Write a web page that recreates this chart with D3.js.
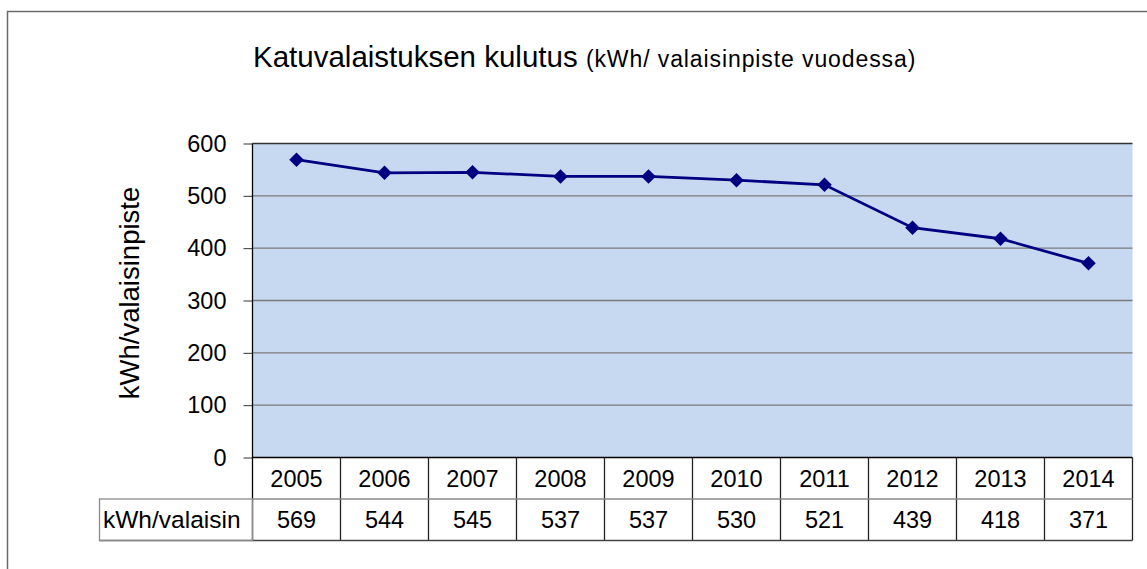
<!DOCTYPE html>
<html>
<head>
<meta charset="utf-8">
<script src="https://cdn.jsdelivr.net/npm/d3@7"></script>
<style>
  body { margin: 0; background: #fff; }
  text { font-family: "Liberation Sans", Arial, sans-serif; fill: #000; }
</style>
</head>
<body>
<svg id="chart" width="1147" height="569"></svg>
<script>
const years = ["2005", "2006", "2007", "2008", "2009", "2010", "2011", "2012", "2013", "2014"];
const values = [569, 544, 545, 537, 537, 530, 521, 439, 418, 371];
const yTicks = [0, 100, 200, 300, 400, 500, 600];
const rowLabel = "kWh/valaisin";

const svg = d3.select("#chart");

const plot = {left: 252.5, right: 1132.5, top: 143.5, bottom: 457.5};
const rowH = 41.5;

const x = d3.scaleBand()
    .domain(years)
    .range([plot.left, plot.right]);

const y = d3.scaleLinear()
    .domain([0, 600])
    .range([plot.bottom, plot.top]);

// outer chart border
svg.append("rect")
    .attr("x", 7.5)
    .attr("y", 11.5)
    .attr("width", 1160)
    .attr("height", 580)
    .attr("fill", "none")
    .attr("stroke", "#6a6a6a")
    .attr("stroke-width", 1.5);

// title
const title = svg.append("text")
    .attr("x", 253)
    .attr("y", 67);
title.append("tspan")
    .style("font-size", "29.5px")
    .text("Katuvalaistuksen kulutus ");
title.append("tspan")
    .style("font-size", "23px")
    .style("letter-spacing", "0.9px")
    .text("(kWh/ valaisinpiste vuodessa)");

// plot area
svg.append("rect")
    .attr("x", plot.left)
    .attr("y", plot.top)
    .attr("width", plot.right - plot.left)
    .attr("height", plot.bottom - plot.top)
    .attr("fill", "#c6d9f1");

// gridlines
svg.append("g")
    .selectAll("line")
    .data(yTicks.filter(d => d > 0))
    .join("line")
    .attr("x1", plot.left)
    .attr("x2", plot.right)
    .attr("y1", d => y(d))
    .attr("y2", d => y(d))
    .attr("stroke", d => d === 600 ? "#333" : "#7a7a7a")
    .attr("stroke-width", 1.3);

// y axis
const yAxis = d3.axisLeft(y)
    .tickValues(yTicks)
    .tickSize(9)
    .tickPadding(17);

const yg = svg.append("g")
    .attr("transform", `translate(${plot.left},0)`)
    .call(yAxis);
yg.select(".domain").remove();
yg.selectAll(".tick line").attr("stroke", "#333");
yg.selectAll(".tick text")
    .style("font-size", "23.5px")
    .style("font-family", "Liberation Sans, Arial, sans-serif")
    .attr("fill", "#000");

svg.append("line")
    .attr("x1", plot.left).attr("x2", plot.left)
    .attr("y1", plot.top).attr("y2", plot.bottom + rowH * 2)
    .attr("stroke", "#000")
    .attr("stroke-width", 1.3);

// y axis title
svg.append("text")
    .attr("transform", `translate(139,293) rotate(-90)`)
    .attr("text-anchor", "middle")
    .style("font-size", "27.5px")
    .text("kWh/valaisinpiste");

// data table
const table = svg.append("g");

table.selectAll("line.col")
    .data(years)
    .join("line")
    .attr("class", "col")
    .attr("x1", d => x(d) + x.bandwidth())
    .attr("x2", d => x(d) + x.bandwidth())
    .attr("y1", plot.bottom)
    .attr("y2", plot.bottom + rowH * 2)
    .attr("stroke", "#222")
    .attr("stroke-width", 1.3);

table.append("line")
    .attr("x1", plot.left).attr("x2", plot.right)
    .attr("y1", plot.bottom + rowH).attr("y2", plot.bottom + rowH)
    .attr("stroke", "#8a8a8a")
    .attr("stroke-width", 1.5);

table.append("line")
    .attr("x1", 99).attr("x2", plot.right)
    .attr("y1", plot.bottom + rowH * 2).attr("y2", plot.bottom + rowH * 2)
    .attr("stroke", "#444")
    .attr("stroke-width", 1.3);

table.append("rect")
    .attr("x", 99.5)
    .attr("y", plot.bottom + rowH)
    .attr("width", plot.left - 99.5)
    .attr("height", rowH)
    .attr("fill", "none")
    .attr("stroke", "#8a8a8a")
    .attr("stroke-width", 1.3);

table.selectAll("text.year")
    .data(years)
    .join("text")
    .attr("class", "year")
    .attr("x", d => x(d) + x.bandwidth() / 2)
    .attr("y", plot.bottom + rowH / 2 + 8.5)
    .attr("text-anchor", "middle")
    .style("font-size", "23.5px")
    .text(d => d);

table.selectAll("text.val")
    .data(values)
    .join("text")
    .attr("class", "val")
    .attr("x", (d, i) => x(years[i]) + x.bandwidth() / 2)
    .attr("y", plot.bottom + rowH * 1.5 + 8.5)
    .attr("text-anchor", "middle")
    .style("font-size", "23.5px")
    .text(d => d);

table.append("text")
    .attr("x", 103)
    .attr("y", plot.bottom + rowH * 1.5 + 8.5)
    .style("font-size", "24.5px")
    .text(rowLabel);

// x axis line
svg.append("line")
    .attr("x1", plot.left).attr("x2", plot.right)
    .attr("y1", plot.bottom).attr("y2", plot.bottom)
    .attr("stroke", "#000")
    .attr("stroke-width", 1.5);

// series
const line = d3.line()
    .x((d, i) => x(years[i]) + x.bandwidth() / 2)
    .y(d => y(d));

svg.append("path")
    .datum(values)
    .attr("d", line)
    .attr("fill", "none")
    .attr("stroke", "#000080")
    .attr("stroke-width", 2.8);

svg.append("g")
    .selectAll("path")
    .data(values)
    .join("path")
    .attr("d", d3.symbol(d3.symbolSquare, 105))
    .attr("transform", (d, i) => `translate(${x(years[i]) + x.bandwidth() / 2},${y(d)}) rotate(45)`)
    .attr("fill", "#000080");
</script>
</body>
</html>
